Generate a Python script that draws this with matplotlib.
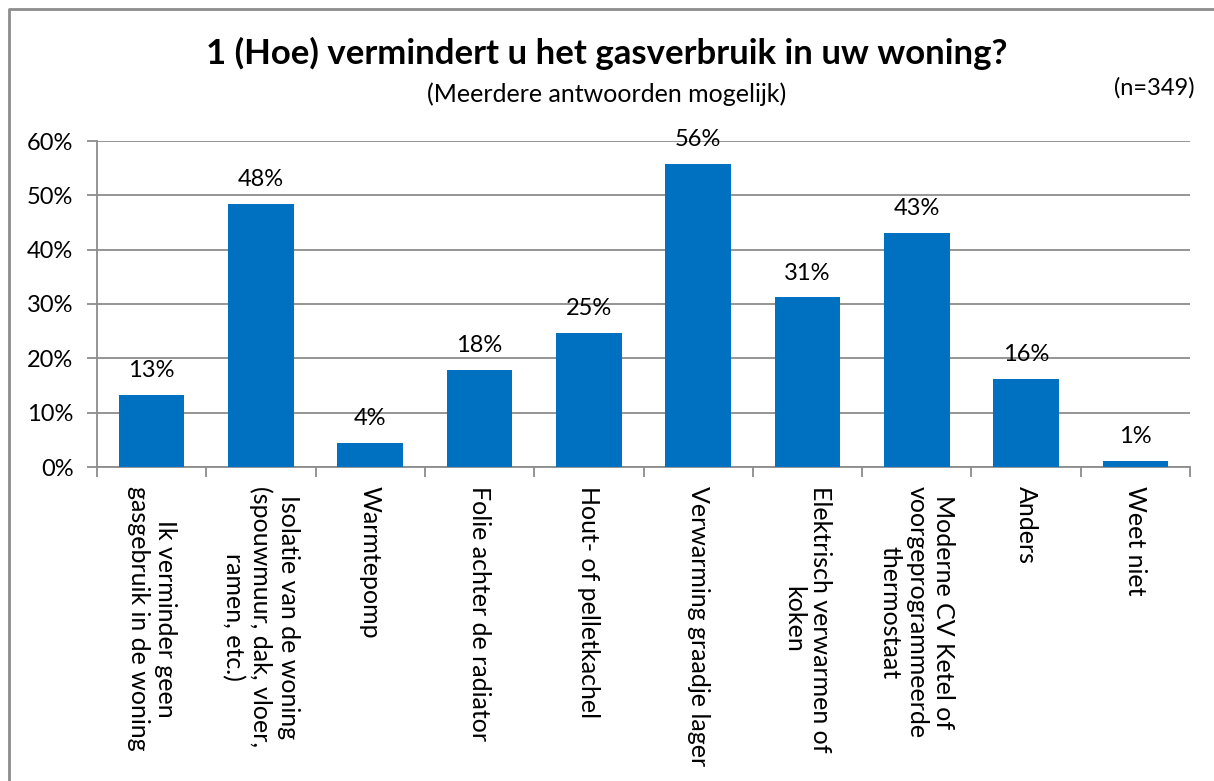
import numpy as np
import matplotlib.pyplot as plt
from matplotlib.lines import Line2D

categories = [
    "Ik verminder geen\ngasgebruik in de woning",
    "Isolatie van de woning\n(spouwmuur, dak, vloer,\nramen, etc.)",
    "Warmtepomp",
    "Folie achter de radiator",
    "Hout- of pelletkachel",
    "Verwarming graadje lager",
    "Elektrisch verwarmen of\nkoken",
    "Moderne CV Ketel of\nvoorgeprogrammeerde\nthermostaat",
    "Anders",
    "Weet niet",
]
values = [13.3, 48.4, 4.4, 17.8, 24.6, 55.7, 31.2, 43.0, 16.2, 1.1]
yticks = [0, 10, 20, 30, 40, 50, 60]

plt.rcParams['font.family'] = ['Lato', 'DejaVu Sans']
grey = '#8c8c8c'
blue = '#0070C0'

fig = plt.figure(figsize=(12.14, 7.81), dpi=100)
ax = fig.add_axes([97/1214, 1-467/781, (1190-97)/1214, (467-141)/781])

x = np.arange(len(categories))
ax.bar(x, values, width=0.6, color=blue, zorder=3)

for xi, v in zip(x, values):
    ax.annotate(f"{v:.0f}%", (xi, v), xytext=(0, 10), textcoords='offset points',
                ha='center', va='bottom', fontsize=17)

ax.set_xlim(-0.5, len(categories) - 0.5)
ax.set_ylim(0, 60)
ax.set_yticks(yticks)
ax.set_yticklabels([f"{t}%" for t in yticks], fontsize=17)
ax.yaxis.grid(True, color=grey, linewidth=1.3, zorder=0)
ax.set_axisbelow(True)

ax.set_xticks(x)
ax.set_xticklabels(categories, rotation=-90, fontsize=18, ha='center', va='top',
                   multialignment='center', linespacing=1.2)
ax.tick_params(axis='x', length=0, pad=14)
ax.set_xticks(np.arange(-0.5, len(categories)), minor=True)
ax.tick_params(axis='x', which='minor', length=7, color=grey, width=1.3)
ax.tick_params(axis='y', length=7, color=grey, width=1.3, pad=10)

for s in ['top', 'right']:
    ax.spines[s].set_visible(False)
for s in ['left', 'bottom']:
    ax.spines[s].set_color(grey)
    ax.spines[s].set_linewidth(1.3)

fig.text(0.5, 1-53/781, "1 (Hoe) vermindert u het gasverbruik in uw woning?",
         ha='center', va='center', fontsize=25, fontweight='bold')
fig.text(0.5, 1-94/781, "(Meerdere antwoorden mogelijk)",
         ha='center', va='center', fontsize=18)
fig.text(1195/1214, 1-88/781, "(n=349)", ha='right', va='center', fontsize=17)

# outer chart border (top and left visible)
fig.add_artist(Line2D([9/1214, 9/1214, 1.0], [0.0, 1-9/781, 1-9/781],
                      transform=fig.transFigure, color=grey, linewidth=2))

fig.savefig("out.png", dpi=100)
